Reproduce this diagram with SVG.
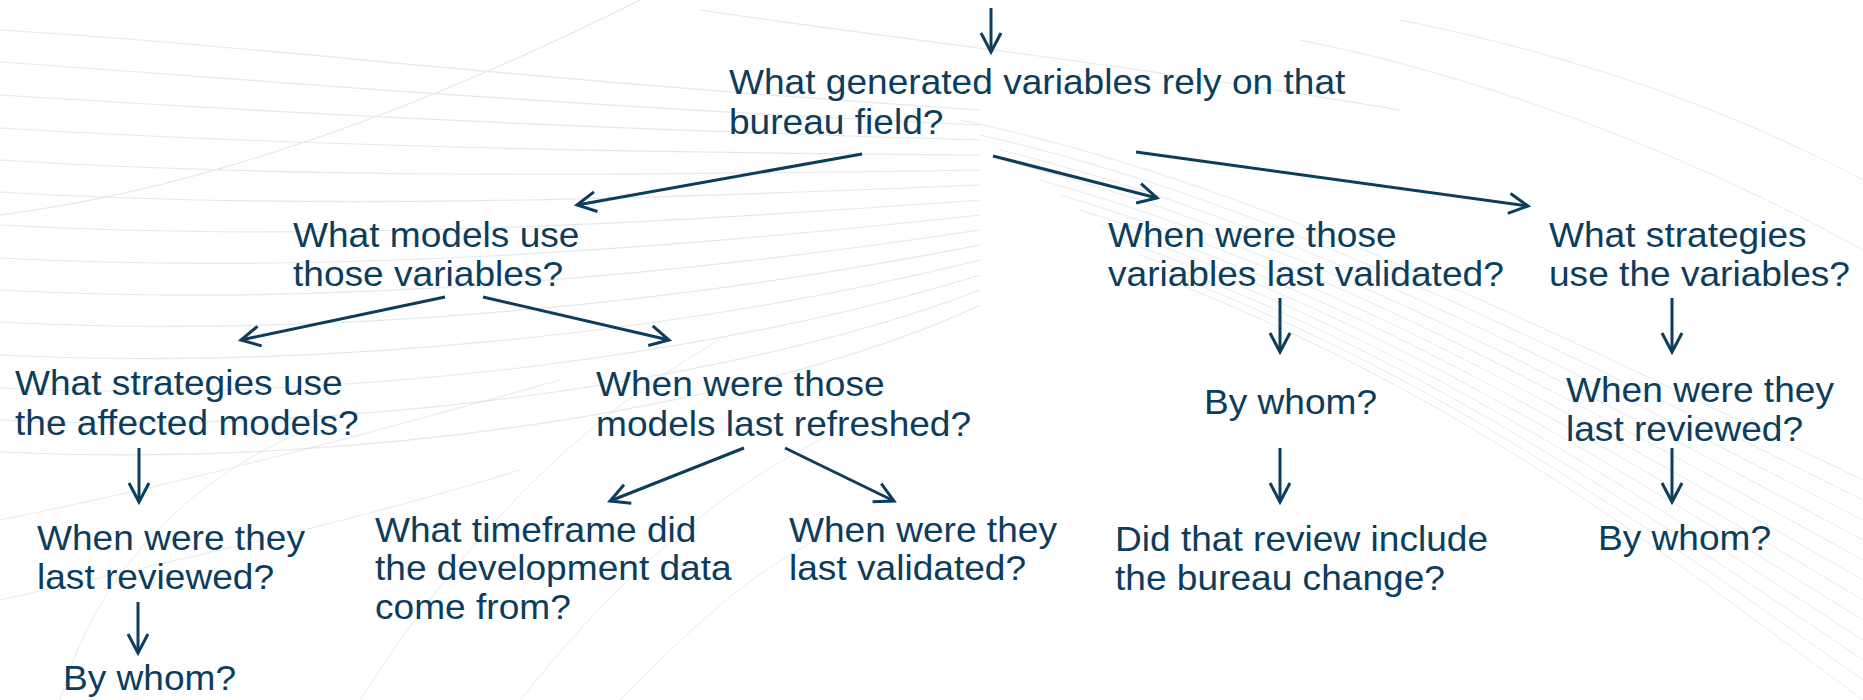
<svg xmlns="http://www.w3.org/2000/svg" width="1863" height="700" viewBox="0 0 1863 700">
  <defs>
    <style>
      .q { font-family: "Liberation Sans", Arial, sans-serif; font-size: 35px; fill: #0d3d5c; }
      .edge { fill: none; stroke: #0d3d5c; stroke-width: 3; marker-end: url(#chev); }
      .wave { fill: none; stroke: #dcdfe2; stroke-width: 1.2; opacity: 0.7; }
      .wave2 { fill: none; stroke: #d3d6d9; stroke-width: 1; opacity: 0.5; }
    </style>
    <marker id="chev" markerUnits="userSpaceOnUse" viewBox="-22 -12 26 24" refX="0" refY="0" markerWidth="26" markerHeight="24" orient="auto">
      <path d="M -19 -10 L 0 0 L -19 10" fill="none" stroke="#0d3d5c" stroke-width="3" stroke-linejoin="miter"/>
    </marker>
  </defs>

  <rect width="1863" height="700" fill="#ffffff"/>

  <!-- faint decorative swooshes in the background -->
  <g id="backdrop">
    <g class="wave">
      <path d="M0 30 C 250 45 520 80 980 110"/>
      <path d="M0 62 C 260 80 540 105 980 125"/>
      <path d="M0 95 C 270 112 560 128 980 140"/>
      <path d="M0 128 C 280 145 580 152 980 155"/>
      <path d="M0 160 C 290 178 600 176 980 170"/>
      <path d="M0 192 C 300 210 620 200 980 185"/>
      <path d="M0 225 C 310 242 640 225 980 200"/>
      <path d="M0 258 C 320 275 660 250 980 215"/>
      <path d="M0 290 C 330 308 680 275 980 230"/>
      <path d="M0 322 C 340 340 700 300 980 245"/>
      <path d="M0 355 C 350 372 720 325 980 260"/>
      <path d="M0 388 C 360 405 740 350 980 275"/>
      <path d="M0 420 C 370 437 760 375 980 290"/>
      <path d="M0 452 C 380 470 780 400 980 305"/>
      <path d="M0 215 C 200 190 420 110 640 0"/>
      <path d="M700 10 C 900 40 1100 60 1400 110"/>
    </g>
    <g class="wave2">
      <path d="M360 700 C 450 560 560 430 720 340"/>
      <path d="M520 700 C 600 600 700 500 820 440"/>
      <path d="M620 700 C 700 620 760 560 860 520"/>
      <path d="M0 520 C 200 480 380 430 560 380"/>
      <path d="M0 600 C 180 560 360 520 520 470"/>
      <path d="M60 700 C 100 560 200 470 330 420"/>
    </g>
    <g class="wave2">
      <path d="M960 120 C 1250 180 1550 330 1863 480"/>
      <path d="M980 135 C 1270 200 1560 350 1863 500"/>
      <path d="M1000 150 C 1290 220 1570 370 1863 520"/>
      <path d="M1020 165 C 1310 240 1580 390 1863 540"/>
      <path d="M1040 180 C 1330 260 1590 410 1863 560"/>
      <path d="M1060 195 C 1350 280 1600 430 1863 580"/>
      <path d="M1080 210 C 1370 300 1610 450 1863 600"/>
      <path d="M1100 225 C 1390 320 1620 470 1863 620"/>
      <path d="M1120 240 C 1410 340 1630 490 1863 640"/>
      <path d="M1140 255 C 1430 360 1640 510 1863 660"/>
      <path d="M1160 270 C 1450 380 1650 530 1863 680"/>
      <path d="M1180 285 C 1470 400 1660 550 1863 700"/>
      <path d="M1300 40 C 1500 80 1700 160 1863 250"/>
      <path d="M1400 20 C 1600 60 1750 120 1863 180"/>
    </g>
  </g>

  <!-- connectors -->
  <g id="connectors">
    <path class="edge" d="M991 8 L991 52"/>
    <path class="edge" d="M862 154 L577 205"/>
    <path class="edge" d="M993 156 L1157 198"/>
    <path class="edge" d="M1136 152 L1528 206"/>
    <path class="edge" d="M445 297 L241 340"/>
    <path class="edge" d="M483 297 L669 340"/>
    <path class="edge" d="M139 448 L139 502"/>
    <path class="edge" d="M138 602 L138 653"/>
    <path class="edge" d="M744 448 L610 501"/>
    <path class="edge" d="M785 448 L894 501"/>
    <path class="edge" d="M1280 298 L1280 352"/>
    <path class="edge" d="M1280 448 L1280 502"/>
    <path class="edge" d="M1672 298 L1672 352"/>
    <path class="edge" d="M1672 448 L1672 502"/>
  </g>

  <!-- question nodes -->
  <g id="n-bureau-field">
    <text class="q" transform="translate(729 0) scale(1.06 1)"><tspan x="0" y="94">What generated variables rely on that</tspan><tspan x="0" y="134">bureau field?</tspan></text>
  </g>
  <g id="n-models">
    <text class="q" transform="translate(293 0) scale(1.06 1)"><tspan x="0" y="247">What models use</tspan><tspan x="0" y="286">those variables?</tspan></text>
  </g>
  <g id="n-var-validated">
    <text class="q" transform="translate(1108 0) scale(1.06 1)"><tspan x="0" y="247">When were those</tspan><tspan x="0" y="286">variables last validated?</tspan></text>
  </g>
  <g id="n-var-strategies">
    <text class="q" transform="translate(1549 0) scale(1.06 1)"><tspan x="0" y="247">What strategies</tspan><tspan x="0" y="286">use the variables?</tspan></text>
  </g>
  <g id="n-model-strategies">
    <text class="q" transform="translate(15 0) scale(1.06 1)"><tspan x="0" y="395">What strategies use</tspan><tspan x="0" y="435">the affected models?</tspan></text>
  </g>
  <g id="n-refreshed">
    <text class="q" transform="translate(596 0) scale(1.06 1)"><tspan x="0" y="396">When were those</tspan><tspan x="0" y="436">models last refreshed?</tspan></text>
  </g>
  <g id="n-var-by-whom">
    <text class="q" transform="translate(1204 0) scale(1.06 1)"><tspan x="0" y="414">By whom?</tspan></text>
  </g>
  <g id="n-var-strat-reviewed">
    <text class="q" transform="translate(1566 0) scale(1.06 1)"><tspan x="0" y="402">When were they</tspan><tspan x="0" y="441">last reviewed?</tspan></text>
  </g>
  <g id="n-model-strat-reviewed">
    <text class="q" transform="translate(37 0) scale(1.06 1)"><tspan x="0" y="550">When were they</tspan><tspan x="0" y="589">last reviewed?</tspan></text>
  </g>
  <g id="n-timeframe">
    <text class="q" transform="translate(375 0) scale(1.06 1)"><tspan x="0" y="542">What timeframe did</tspan><tspan x="0" y="580">the development data</tspan><tspan x="0" y="619">come from?</tspan></text>
  </g>
  <g id="n-model-validated">
    <text class="q" transform="translate(789 0) scale(1.06 1)"><tspan x="0" y="542">When were they</tspan><tspan x="0" y="580">last validated?</tspan></text>
  </g>
  <g id="n-review-change">
    <text class="q" transform="translate(1115 0) scale(1.06 1)"><tspan x="0" y="551">Did that review include</tspan><tspan x="0" y="590">the bureau change?</tspan></text>
  </g>
  <g id="n-var-strat-by-whom">
    <text class="q" transform="translate(1598 0) scale(1.06 1)"><tspan x="0" y="550">By whom?</tspan></text>
  </g>
  <g id="n-model-strat-by-whom">
    <text class="q" transform="translate(63 0) scale(1.06 1)"><tspan x="0" y="690">By whom?</tspan></text>
  </g>
</svg>
